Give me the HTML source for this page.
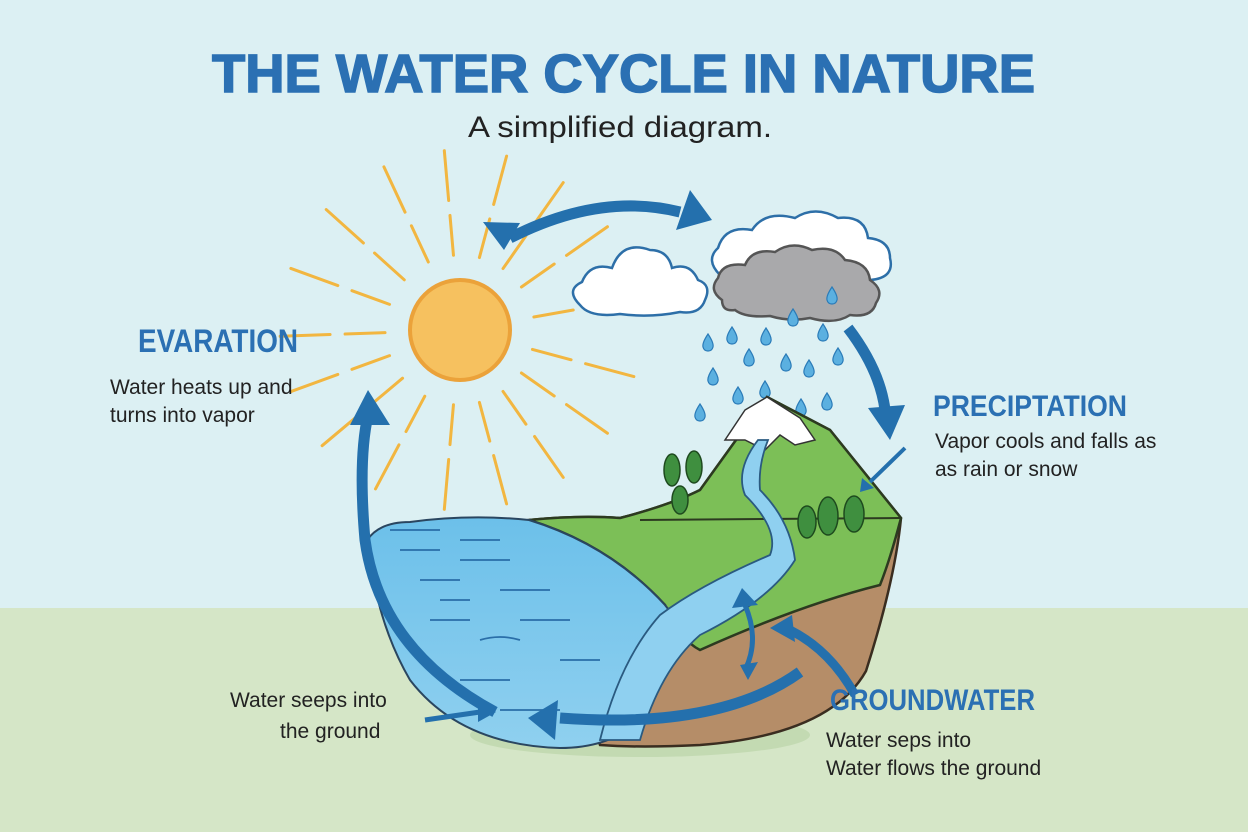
<!DOCTYPE html>
<html><head><meta charset="utf-8"><style>
html,body{margin:0;padding:0;width:1248px;height:832px;overflow:hidden}
svg{display:block}
</style></head><body>
<svg width="1248" height="832" viewBox="0 0 1248 832" xmlns="http://www.w3.org/2000/svg">
<defs>
<linearGradient id="wat" x1="0" y1="0" x2="0" y2="1"><stop offset="0" stop-color="#6cc0ea"/><stop offset="1" stop-color="#8fd0ef"/></linearGradient>
<path id="d" d="M0 -9 Q6 0 5 4 Q4 8 0 8 Q-4 8 -5 4 Q-6 0 0 -9Z"/>
<g id="ray"><line x1="535" y1="330" x2="575" y2="330"/><line x1="590" y1="330" x2="640" y2="330"/></g>
</defs>
<rect width="1248" height="832" fill="#dcf0f3"/>
<rect y="608" width="1248" height="224" fill="#d5e6c7"/>
<ellipse cx="640" cy="735" rx="170" ry="22" fill="#c3dab2"/>

<text x="212" y="92" font-family="Liberation Sans, sans-serif" font-weight="900" font-size="54" fill="#2b70b3" stroke="#2b70b3" stroke-width="1.5" textLength="823" lengthAdjust="spacingAndGlyphs">THE WATER CYCLE IN NATURE</text>
<text x="468" y="137" font-family="Liberation Sans, sans-serif" font-size="30" fill="#222" textLength="304" lengthAdjust="spacingAndGlyphs">A simplified diagram.</text>

<g stroke="#f2b640" stroke-width="3" stroke-linecap="round">
<use href="#ray" transform="rotate(15 460 330)"/>
<use href="#ray" transform="rotate(35 460 330)"/>
<use href="#ray" transform="rotate(55 460 330)"/>
<use href="#ray" transform="rotate(75 460 330)"/>
<use href="#ray" transform="rotate(95 460 330)"/>
<use href="#ray" transform="rotate(118 460 330)"/>
<use href="#ray" transform="rotate(140 460 330)"/>
<use href="#ray" transform="rotate(160 460 330)"/>
<use href="#ray" transform="rotate(178 460 330)"/>
<use href="#ray" transform="rotate(200 460 330)"/>
<use href="#ray" transform="rotate(222 460 330)"/>
<use href="#ray" transform="rotate(245 460 330)"/>
<use href="#ray" transform="rotate(265 460 330)"/>
<use href="#ray" transform="rotate(285 460 330)"/>
<use href="#ray" transform="rotate(305 460 330)"/>
<use href="#ray" transform="rotate(325 460 330)"/>
<use href="#ray" transform="rotate(350 460 330)"/>
</g>
<circle cx="460" cy="330" r="50" fill="#f6c15f" stroke="#eba23a" stroke-width="4"/>

<g stroke="#2d6fa8" stroke-width="2.5" fill="#fff">
<path d="M580 305 Q565 290 582 282 Q590 262 612 268 Q622 240 650 250 Q668 250 672 268 Q690 262 698 280 Q712 285 705 300 Q700 315 680 312 Q650 318 620 314 Q590 318 580 305Z"/>
<path d="M720 275 Q705 260 718 248 Q725 225 752 230 Q765 210 795 218 Q815 205 838 218 Q865 215 868 238 Q890 240 890 258 Q895 278 870 280 L740 282 Q722 282 720 275Z"/>
</g>
<path d="M722 300 Q708 290 718 278 Q722 262 745 265 Q752 248 775 252 Q792 240 812 250 Q835 245 845 260 Q868 262 870 280 Q885 290 876 303 Q872 318 850 315 Q835 325 810 318 Q790 322 770 316 Q745 318 735 310 Q722 312 722 300Z" fill="#a9a9ab" stroke="#555" stroke-width="2.5"/>

<g fill="#5bb0e0" stroke="#2a7bb8" stroke-width="1.2">
<use href="#d" x="708" y="343"/><use href="#d" x="732" y="336"/><use href="#d" x="766" y="337"/><use href="#d" x="823" y="333"/>
<use href="#d" x="793" y="318"/><use href="#d" x="832" y="296"/><use href="#d" x="749" y="358"/><use href="#d" x="786" y="363"/>
<use href="#d" x="809" y="369"/><use href="#d" x="838" y="357"/><use href="#d" x="713" y="377"/><use href="#d" x="738" y="396"/>
<use href="#d" x="765" y="390"/><use href="#d" x="827" y="402"/><use href="#d" x="700" y="413"/><use href="#d" x="801" y="408"/>
</g>

<!-- land -->
<path d="M529 520 Q580 515 620 518 Q670 505 700 490 L767 397 L830 430 L901 518 Q895 580 866 671 Q830 735 700 745 Q640 748 600 745 Z" fill="#b58d68" stroke="#3a2d20" stroke-width="2.5"/>
<path d="M529 520 Q580 515 620 518 Q670 505 700 490 L767 397 L830 430 L901 518 Q890 560 880 585 Q800 605 700 650 Q680 640 665 605 Q610 545 529 520Z" fill="#7cbf57" stroke="#2c3a20" stroke-width="2.5"/>
<path d="M640 520 L900 518" stroke="#2c3a20" stroke-width="2" fill="none"/>
<path d="M745 410 L767 397 L800 418 L815 440 L795 445 L780 435 L765 450 L745 440 L725 440 Z" fill="#fff" stroke="#333" stroke-width="1.5"/>
<g fill="#3f8f3f" stroke="#1e4a1e" stroke-width="1.5">
<ellipse cx="672" cy="470" rx="8" ry="16"/><ellipse cx="694" cy="467" rx="8" ry="16"/><ellipse cx="680" cy="500" rx="8" ry="14"/>
<ellipse cx="807" cy="522" rx="9" ry="16"/><ellipse cx="828" cy="516" rx="10" ry="19"/><ellipse cx="854" cy="514" rx="10" ry="18"/>
</g>
<!-- water -->
<path d="M368 539 Q380 522 410 522 Q470 514 529 520 Q610 545 665 605 Q670 612 680 620 Q660 680 640 720 Q610 748 560 748 Q460 745 410 680 Q375 620 368 539Z" fill="url(#wat)" stroke="#2a4660" stroke-width="2"/>
<path d="M758 440 Q735 470 745 495 Q780 530 770 555 Q700 585 660 615 Q620 660 600 740 L640 740 Q660 670 700 635 Q770 600 795 560 Q790 520 760 490 Q758 465 768 440Z" fill="#8fd0f0" stroke="#2a5a80" stroke-width="1.8"/>
<g stroke="#2a6ea8" stroke-width="1.8" fill="none">
<path d="M400 550 h40 M460 560 h50 M420 580 h40 M500 590 h50 M430 620 h40 M480 640 q20-6 40 0 M520 620 h50 M460 680 h50 M560 660 h40 M500 710 h60 M440 600 h30 M390 530 h50 M460 540 h40"/>
</g>

<g fill="none" stroke="#2470ad" stroke-width="11">
<path d="M495 712 Q380 650 365 540 Q358 460 368 415"/>
<path d="M800 672 Q720 730 560 718"/>
<path d="M510 238 Q600 192 680 212"/>
<path d="M848 328 Q880 370 885 410"/>
<path d="M855 695 Q830 650 790 630" stroke-width="9"/>
<path d="M745 605 Q760 640 745 670" stroke-width="5"/>
<path d="M425 720 L480 712" stroke-width="5"/>
<path d="M905 448 L870 482" stroke-width="4"/>
</g>
<g fill="#2470ad">
<path d="M350 425 L368 390 L390 425Z"/>
<path d="M558 700 L528 718 L555 740Z"/>
<path d="M483 222 L520 223 L504 250Z"/>
<path d="M690 190 L712 220 L676 230Z"/>
<path d="M868 408 L905 405 L890 440Z"/>
<path d="M770 628 L792 615 L795 642Z"/>
<path d="M732 608 L742 588 L758 605Z"/>
<path d="M740 665 L748 680 L758 662Z"/>
<path d="M478 703 L496 712 L478 722Z"/>
<path d="M862 478 L860 492 L874 488Z"/>
</g>

<g font-family="Liberation Sans Narrow, Liberation Sans, sans-serif" font-weight="bold" fill="#2b70b3">
<text x="138" y="352" font-size="32" textLength="160" lengthAdjust="spacingAndGlyphs">EVARATION</text>
<text x="933" y="416" font-size="30" textLength="194" lengthAdjust="spacingAndGlyphs">PRECIPTATION</text>
<text x="830" y="710" font-size="30" textLength="205" lengthAdjust="spacingAndGlyphs">GROUNDWATER</text>
</g>
<g font-family="Liberation Sans, sans-serif" font-size="21" fill="#222">
<text x="110" y="394">Water heats up and</text>
<text x="110" y="422">turns into vapor</text>
<text x="935" y="448">Vapor cools and falls as</text>
<text x="935" y="476">as rain or snow</text>
<text x="826" y="747">Water seps into</text>
<text x="826" y="775">Water flows the ground</text>
<text x="230" y="707">Water seeps into</text>
<text x="280" y="738">the ground</text>
</g>
</svg>
</body></html>
